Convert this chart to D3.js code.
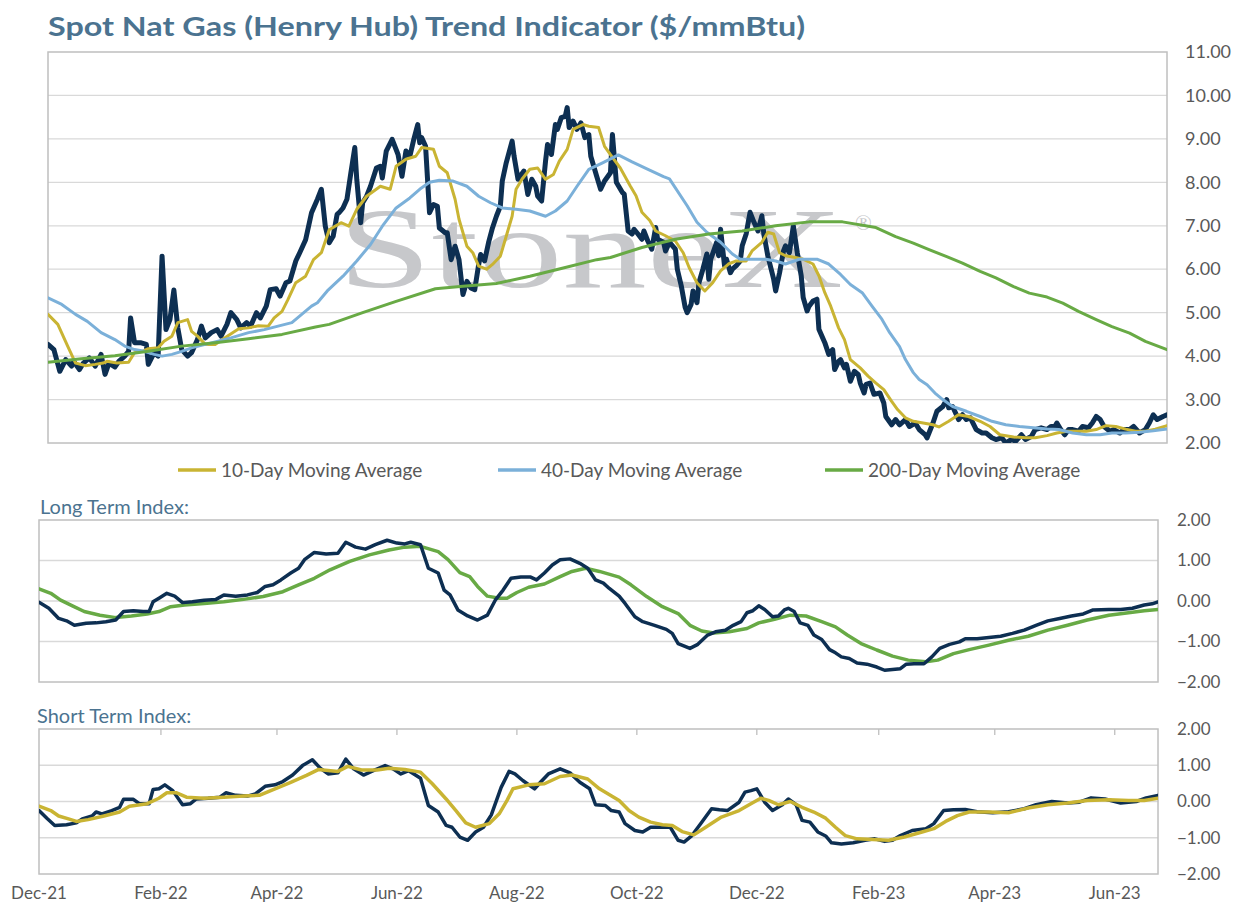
<!DOCTYPE html>
<html>
<head>
<meta charset="utf-8">
<script src="https://cdn.jsdelivr.net/npm/d3@7"></script>
<style>
  html, body { margin: 0; padding: 0; background: #fff; }
  svg { display: block; font-family: Lato, "Noto Sans", sans-serif; }
</style>
</head>
<body>
<svg id="chart" width="1242" height="919"></svg>
<script>
// all series are [days since 1-Dec-2021, value]
const startDate = "2021-12-01";
const endDay = 569;
const monthTicks = ["2021-12-01","2022-02-01","2022-04-01","2022-06-01","2022-08-01","2022-10-01",
  "2022-12-01","2023-02-01","2023-04-01","2023-06-01"];
const priceTicks = [2,3,4,5,6,7,8,9,10,11];
const indexTicks = [-2,-1,0,1,2];
const legendLabels = ["10-Day Moving Average","40-Day Moving Average","200-Day Moving Average"];

const spotPrice = [[0,4.27],[3,4.15],[6,3.65],[9,3.92],[12,3.77],[13,3.88],[16,3.69],[18,3.84],[21,3.96],[24,3.77],
  [27,4.04],[29,3.58],[31,3.84],[34,3.75],[36,3.88],[39,4.0],[41,4.11],[42,4.88],[44,4.31],[47,4.31],[50,4.27],
  [51,3.81],[54,4.08],[56,4.0],[58,6.30],[60,4.61],[62,4.84],[64,5.52],[66,4.65],[68,4.15],[71,4.0],[73,4.08],
  [76,4.38],[78,4.69],[80,4.42],[83,4.54],[86,4.61],[88,4.46],[91,4.73],[93,5.0],[96,4.84],[98,4.65],[101,4.77],
  [103,4.69],[106,5.0],[108,4.88],[111,5.15],[113,5.53],[116,5.55],[118,5.38],[121,5.69],[123,5.73],[126,6.19],
  [128,6.38],[131,6.68],[134,7.30],[137,7.61],[139,7.84],[141,6.99],[143,6.61],[145,6.76],[147,7.26],[148,7.30],
  [150,7.41],[152,7.61],[154,8.22],[156,8.80],[157,8.07],[159,7.07],[160,7.53],[162,7.68],[164,7.91],[167,8.33],
  [169,8.37],[170,8.10],[172,8.72],[175,8.99],[178,8.64],[180,8.14],[182,8.72],[184,8.60],[186,8.99],[188,9.33],
  [189,8.91],[190,9.03],[192,8.83],[194,7.30],[196,7.49],[198,7.45],[199,6.95],[202,6.84],[203,6.84],[205,6.22],
  [207,6.53],[209,6.22],[211,5.42],[213,5.72],[215,5.57],[217,5.53],[219,6.11],[220,6.34],[222,6.19],[224,6.61],
  [226,6.95],[228,7.22],[230,7.45],[231,8.03],[233,8.45],[236,8.95],[237,8.60],[239,8.07],[242,8.26],[244,7.72],
  [246,8.07],[248,7.91],[249,7.68],[251,7.57],[253,8.49],[254,8.87],[256,8.64],[258,9.33],[259,9.22],[261,9.49],
  [263,9.52],[264,9.72],[265,9.26],[267,9.41],[269,9.22],[271,9.37],[273,9.03],[275,9.10],[276,8.60],[279,8.14],
  [281,7.84],[283,8.03],[286,8.22],[287,9.10],[289,8.0],[292,7.77],[293,7.73],[295,6.88],[297,6.81],[298,6.92],
  [300,6.81],[302,6.69],[303,6.88],[305,6.65],[307,6.46],[309,6.96],[310,6.69],[313,6.62],[314,6.42],[316,6.62],
  [319,6.46],[320,6.0],[322,5.62],[324,5.12],[325,5.0],[327,5.19],[328,5.5],[330,5.23],[331,5.69],[333,6.0],
  [335,6.35],[336,5.77],[337,6.23],[340,6.62],[341,6.31],[342,6.92],[344,6.08],[345,6.23],[347,5.92],[348,6.0],
  [350,6.08],[352,6.19],[353,6.54],[355,6.81],[357,7.31],[359,7.08],[361,6.88],[363,7.23],[364,6.81],[366,6.31],
  [369,5.77],[370,5.5],[372,5.92],[374,6.42],[375,6.54],[377,6.38],[379,7.0],[380,6.69],[381,6.38],[383,5.85],
  [384,5.35],[386,5.04],[387,5.15],[389,5.27],[391,5.31],[392,4.62],[395,4.31],[397,4.04],[399,4.15],[400,3.69],
  [402,3.88],[403,3.92],[405,3.73],[406,3.81],[408,3.42],[410,3.65],[412,3.58],[413,3.38],[415,3.15],[416,3.35],
  [418,3.38],[420,3.12],[423,3.15],[425,2.92],[426,2.61],[429,2.42],[431,2.54],[433,2.42],[436,2.54],[438,2.38],
  [441,2.46],[443,2.31],[446,2.19],[447,2.12],[450,2.46],[452,2.73],[455,2.84],[457,3.0],[458,2.81],[460,2.84],
  [463,2.54],[465,2.65],[467,2.54],[469,2.58],[472,2.31],[475,2.23],[477,2.23],[480,2.12],[482,2.08],[485,2.12],
  [487,2.0],[490,2.08],[492,2.04],[495,2.19],[497,2.08],[500,2.15],[502,2.31],[505,2.35],[508,2.31],[510,2.38],
  [512,2.38],[513,2.46],[515,2.31],[517,2.19],[519,2.31],[521,2.31],[524,2.27],[526,2.38],[529,2.35],[531,2.46],
  [533,2.61],[535,2.54],[537,2.38],[540,2.27],[542,2.31],[545,2.23],[547,2.31],[550,2.31],[552,2.38],[555,2.23],
  [558,2.31],[560,2.46],[562,2.65],[564,2.54],[567,2.61],[569,2.65]];

const ma10 = [[0,4.96],[5,4.73],[10,4.23],[14,3.84],[19,3.78],[24,3.81],[28,3.84],[30,3.88],[35,3.84],[41,3.86],
  [44,4.08],[48,4.11],[51,4.17],[56,4.19],[59,4.34],[63,4.46],[66,4.77],[71,4.84],[73,4.57],[76,4.46],[80,4.27],
  [85,4.27],[90,4.42],[97,4.63],[102,4.65],[107,4.70],[112,4.69],[115,4.88],[119,5.03],[122,5.30],[126,5.69],
  [131,5.84],[135,6.22],[139,6.38],[143,6.91],[149,7.07],[153,6.99],[157,7.38],[162,7.68],[169,7.91],[174,7.84],
  [177,8.37],[182,8.53],[187,8.60],[190,8.80],[196,8.76],[199,8.37],[203,8.22],[207,7.61],[209,7.15],[213,6.53],
  [216,6.38],[219,6.07],[223,6.0],[226,6.11],[230,6.30],[233,6.76],[236,7.22],[238,7.84],[241,8.07],[245,8.30],
  [249,8.33],[253,8.07],[257,8.18],[260,8.49],[264,8.76],[267,9.22],[272,9.33],[275,9.29],[280,9.26],[283,8.83],
  [286,8.64],[291,8.33],[296,7.92],[299,7.69],[302,7.31],[306,7.12],[309,6.88],[314,6.77],[319,6.65],[323,6.38],
  [326,6.04],[330,5.69],[334,5.5],[338,5.69],[342,5.96],[346,6.12],[350,6.19],[355,6.19],[358,6.42],[363,6.62],
  [366,6.85],[369,6.81],[372,6.38],[375,6.31],[380,6.27],[384,6.23],[389,6.12],[392,5.85],[395,5.46],[398,5.15],
  [402,4.65],[405,4.38],[408,3.92],[413,3.73],[417,3.54],[421,3.38],[425,3.23],[429,2.96],[432,2.77],[436,2.58],
  [440,2.50],[445,2.46],[450,2.42],[453,2.37],[458,2.50],[463,2.65],[468,2.61],[474,2.50],[479,2.38],[484,2.19],
  [491,2.14],[497,2.12],[502,2.12],[508,2.17],[513,2.23],[518,2.27],[523,2.27],[528,2.27],[533,2.31],[538,2.40],
  [543,2.38],[548,2.32],[553,2.27],[558,2.27],[563,2.32],[569,2.40]];

const ma40 = [[0,5.34],[7,5.19],[14,4.96],[20,4.80],[27,4.54],[34,4.38],[39,4.23],[44,4.15],[49,4.11],[54,4.04],
  [58,4.0],[63,4.04],[68,4.11],[73,4.19],[80,4.27],[86,4.34],[93,4.42],[102,4.54],[110,4.61],[117,4.69],[124,4.77],
  [129,4.96],[134,5.15],[137,5.23],[142,5.50],[150,5.84],[157,6.19],[164,6.57],[170,6.99],[177,7.41],[184,7.64],
  [189,7.84],[194,8.0],[199,8.05],[206,8.03],[213,7.91],[219,7.68],[225,7.53],[231,7.41],[238,7.38],[245,7.34],
  [253,7.22],[258,7.34],[264,7.57],[269,7.91],[275,8.30],[282,8.45],[290,8.63],[297,8.47],[304,8.32],[313,8.13],
  [316,8.08],[325,7.46],[330,7.08],[335,6.85],[342,6.62],[348,6.35],[352,6.23],[358,6.23],[365,6.23],[370,6.19],
  [375,6.12],[382,6.23],[391,6.23],[397,6.12],[403,5.88],[408,5.65],[414,5.46],[419,5.15],[424,4.85],[428,4.54],
  [433,4.22],[436,3.92],[440,3.62],[443,3.46],[447,3.34],[451,3.15],[455,3.0],[460,2.84],[467,2.73],[474,2.61],
  [480,2.50],[487,2.42],[494,2.38],[501,2.35],[508,2.32],[514,2.31],[521,2.23],[528,2.19],[535,2.19],[541,2.23],
  [548,2.23],[555,2.25],[562,2.28],[569,2.32]];

const ma200 = [[0,3.86],[17,3.94],[34,4.01],[51,4.11],[68,4.23],[85,4.31],[102,4.40],[119,4.50],[136,4.67],
  [143,4.73],[160,5.0],[177,5.26],[197,5.55],[211,5.61],[228,5.67],[245,5.84],[262,6.03],[279,6.22],[286,6.27],
  [302,6.50],[319,6.69],[336,6.81],[353,6.88],[370,7.0],[387,7.09],[404,7.09],[421,6.96],[431,6.75],[440,6.60],
  [448,6.45],[457,6.29],[465,6.14],[474,5.95],[482,5.80],[491,5.60],[499,5.45],[508,5.36],[516,5.22],[524,5.03],
  [533,4.84],[541,4.68],[550,4.53],[558,4.34],[569,4.15]];

const longIndex = [[0,-0.03],[5,-0.18],[10,-0.43],[14,-0.49],[18,-0.60],[24,-0.55],[29,-0.54],[34,-0.51],[39,-0.47],
  [43,-0.26],[48,-0.24],[53,-0.26],[56,-0.26],[58,-0.02],[61,0.07],[65,0.19],[69,0.12],[73,-0.04],[78,-0.02],
  [84,0.02],[90,0.04],[94,0.15],[100,0.12],[106,0.15],[111,0.21],[115,0.36],[119,0.40],[123,0.52],[128,0.69],
  [132,0.81],[135,1.02],[140,1.20],[146,1.16],[152,1.18],[156,1.45],[161,1.33],[166,1.28],[171,1.39],[177,1.50],
  [182,1.43],[186,1.41],[189,1.45],[194,1.39],[198,0.81],[203,0.69],[206,0.27],[209,0.15],[213,-0.22],[218,-0.37],
  [223,-0.47],[228,-0.35],[232,0.02],[236,0.27],[240,0.56],[245,0.59],[250,0.59],[253,0.52],[257,0.69],[261,0.89],
  [265,1.02],[270,1.04],[275,0.93],[279,0.81],[283,0.52],[287,0.44],[290,0.31],[295,0.12],[298,-0.06],[303,-0.39],
  [307,-0.51],[313,-0.60],[319,-0.70],[322,-0.80],[325,-1.05],[331,-1.17],[335,-1.07],[340,-0.84],[344,-0.76],
  [349,-0.72],[353,-0.60],[357,-0.51],[360,-0.29],[363,-0.24],[366,-0.12],[369,-0.21],[373,-0.39],[376,-0.37],
  [379,-0.22],[381,-0.18],[384,-0.26],[387,-0.54],[391,-0.60],[394,-0.84],[398,-0.95],[402,-1.20],[405,-1.28],
  [408,-1.38],[412,-1.42],[416,-1.53],[421,-1.56],[426,-1.63],[430,-1.71],[434,-1.69],[438,-1.67],[441,-1.56],
  [445,-1.55],[450,-1.55],[454,-1.38],[458,-1.17],[463,-1.07],[468,-1.01],[471,-0.93],[477,-0.93],[483,-0.90],
  [489,-0.87],[495,-0.80],[501,-0.72],[507,-0.60],[513,-0.49],[519,-0.43],[525,-0.37],[531,-0.32],[536,-0.22],
  [544,-0.21],[550,-0.21],[556,-0.18],[562,-0.10],[566,-0.07],[569,-0.02]];

const longSignal = [[0,0.30],[6,0.19],[11,0.02],[17,-0.12],[23,-0.26],[31,-0.35],[39,-0.41],[47,-0.37],[55,-0.32],
  [61,-0.26],[67,-0.14],[74,-0.10],[84,-0.06],[94,-0.02],[104,0.04],[114,0.11],[124,0.23],[132,0.40],[140,0.56],
  [148,0.77],[158,0.98],[168,1.14],[178,1.26],[186,1.33],[194,1.35],[203,1.22],[208,1.02],[214,0.70],[219,0.60],
  [223,0.36],[228,0.12],[234,0.07],[238,0.07],[243,0.21],[249,0.34],[257,0.42],[265,0.60],[271,0.73],[278,0.81],
  [285,0.73],[295,0.59],[301,0.40],[309,0.11],[317,-0.14],[325,-0.31],[331,-0.60],[337,-0.74],[343,-0.79],
  [351,-0.76],[360,-0.68],[366,-0.54],[374,-0.45],[382,-0.35],[390,-0.37],[398,-0.51],[405,-0.64],[411,-0.84],
  [418,-1.05],[426,-1.21],[434,-1.36],[442,-1.46],[451,-1.50],[457,-1.46],[465,-1.30],[473,-1.20],[483,-1.09],
  [493,-0.97],[503,-0.87],[513,-0.72],[523,-0.60],[533,-0.47],[544,-0.35],[554,-0.29],[562,-0.24],[569,-0.21]];

const shortIndex = [[0,-0.25],[4,-0.46],[8,-0.66],[14,-0.64],[19,-0.59],[22,-0.48],[27,-0.40],[29,-0.29],[32,-0.34],
  [37,-0.25],[41,-0.16],[43,0.06],[48,0.06],[51,-0.06],[56,-0.06],[58,0.33],[61,0.35],[64,0.46],[68,0.30],[73,-0.09],
  [77,-0.06],[80,0.07],[86,0.09],[92,0.12],[95,0.24],[100,0.17],[106,0.15],[110,0.21],[115,0.42],[120,0.46],
  [124,0.55],[129,0.73],[134,0.99],[139,1.15],[143,0.92],[147,0.76],[152,0.79],[156,1.17],[160,0.90],[165,0.73],
  [170,0.85],[176,0.99],[180,0.90],[184,0.76],[188,0.85],[194,0.64],[198,-0.11],[203,-0.29],[207,-0.66],[210,-0.71],
  [214,-0.98],[218,-1.07],[222,-0.84],[226,-0.71],[230,-0.37],[235,0.39],[239,0.83],[242,0.76],[246,0.58],[252,0.35],
  [255,0.53],[259,0.76],[265,0.90],[270,0.79],[275,0.53],[280,0.35],[283,-0.09],[288,-0.11],[291,-0.25],[295,-0.29],
  [298,-0.61],[303,-0.80],[307,-0.84],[311,-0.71],[315,-0.71],[321,-0.71],[325,-1.07],[328,-1.12],[332,-0.94],
  [337,-0.57],[342,-0.20],[346,-0.23],[350,-0.25],[356,-0.02],[359,0.26],[362,0.30],[365,0.35],[369,-0.02],
  [373,-0.25],[378,-0.09],[381,0.07],[385,-0.09],[388,-0.52],[392,-0.57],[396,-0.84],[400,-0.95],[403,-1.14],
  [408,-1.17],[414,-1.14],[420,-1.07],[425,-1.03],[430,-1.10],[434,-1.07],[438,-0.94],[444,-0.80],[451,-0.75],
  [455,-0.61],[460,-0.25],[465,-0.23],[471,-0.22],[477,-0.28],[485,-0.31],[493,-0.28],[501,-0.20],[507,-0.09],
  [515,0.0],[523,-0.04],[529,-0.02],[535,0.10],[542,0.07],[550,-0.04],[558,0.0],[563,0.10],[569,0.17]];

const shortSignal = [[0,-0.13],[6,-0.25],[10,-0.40],[15,-0.48],[19,-0.55],[25,-0.50],[33,-0.40],[41,-0.29],[46,-0.13],
  [55,-0.06],[61,0.09],[65,0.24],[70,0.24],[75,0.12],[84,0.09],[94,0.12],[104,0.15],[112,0.17],[120,0.35],[128,0.53],
  [136,0.72],[142,0.88],[152,0.83],[157,0.97],[164,0.87],[172,0.87],[178,0.92],[186,0.88],[194,0.81],[200,0.49],
  [207,0.07],[212,-0.25],[217,-0.59],[222,-0.71],[229,-0.61],[234,-0.34],[238,0.03],[241,0.35],[249,0.46],[257,0.49],
  [265,0.69],[271,0.73],[279,0.62],[285,0.35],[295,0.03],[300,-0.25],[305,-0.43],[311,-0.57],[317,-0.64],[322,-0.66],
  [327,-0.83],[333,-0.92],[339,-0.71],[347,-0.43],[356,-0.25],[362,-0.06],[367,0.09],[371,0.03],[376,-0.09],[382,0.0],
  [388,-0.16],[394,-0.29],[400,-0.46],[405,-0.71],[410,-0.94],[416,-1.03],[424,-1.05],[432,-1.07],[440,-0.98],
  [449,-0.84],[455,-0.75],[461,-0.55],[467,-0.39],[473,-0.29],[483,-0.29],[493,-0.31],[503,-0.18],[513,-0.09],
  [523,-0.04],[533,0.03],[544,0.05],[554,0.03],[562,0.03],[569,0.09]];

const navy = "#0d2f52", gold = "#c9b433", blue = "#7bb0d9", green = "#68aa45";
const gridColor = "#d9d9d9", borderColor = "#bfbfbf", labelColor = "#595959", titleColor = "#4b7390";

const day0 = d3.timeParse("%Y-%m-%d")(startDate);
const toDate = d => d3.timeDay.offset(day0, d);
const fmt = d3.format(".2f");

const svg = d3.select("#chart");
svg.append("rect").attr("width", 1242).attr("height", 919).attr("fill", "#fff");

svg.append("text")
  .attr("x", 48).attr("y", 36)
  .attr("font-size", 27).attr("font-weight", 700)
  .attr("fill", titleColor)
  .attr("textLength", 757).attr("lengthAdjust", "spacingAndGlyphs")
  .text("Spot Nat Gas (Henry Hub) Trend Indicator ($/mmBtu)");

// draws frame, gridlines and right-hand labels of one panel
function makePanel(id, box, yDomain, ticks, labelPad, labelSize) {
  const x = d3.scaleTime().domain([day0, toDate(endDay)]).range([box.left, box.right]);
  const y = d3.scaleLinear().domain(yDomain).range([box.bottom, box.top]);
  const g = svg.append("g");

  g.append("clipPath").attr("id", id)
    .append("rect")
      .attr("x", box.left).attr("y", box.top)
      .attr("width", box.right - box.left).attr("height", box.bottom - box.top);

  g.selectAll("line.grid")
    .data(ticks.slice(1, -1))
    .join("line")
      .attr("x1", box.left).attr("x2", box.right)
      .attr("y1", d => y(d)).attr("y2", d => y(d))
      .attr("stroke", gridColor).attr("stroke-width", 1.3);

  g.append("rect")
    .attr("x", box.left).attr("y", box.top)
    .attr("width", box.right - box.left).attr("height", box.bottom - box.top)
    .attr("fill", "none").attr("stroke", borderColor).attr("stroke-width", 1.5);

  const axis = d3.axisRight(y).tickValues(ticks).tickFormat(fmt).tickSize(0).tickPadding(labelPad);
  const ax = svg.append("g").attr("transform", `translate(${box.right},0)`).call(axis);
  ax.select(".domain").remove();
  ax.selectAll("text")
    .attr("font-family", 'Lato, "Noto Sans", sans-serif')
    .attr("font-size", labelSize).attr("fill", labelColor);

  const layer = svg.append("g").attr("clip-path", `url(#${id})`);
  return { x, y, layer };
}

function drawLine(p, data, color, width) {
  const line = d3.line()
    .x(d => p.x(toDate(d[0])))
    .y(d => p.y(d[1]));
  p.layer.append("path")
    .datum(data)
    .attr("d", line)
    .attr("fill", "none")
    .attr("stroke", color)
    .attr("stroke-width", width)
    .attr("stroke-linejoin", "round")
    .attr("stroke-linecap", "round");
}

// ---- price panel
const priceP = makePanel("clipTop", { left: 48, right: 1167, top: 52, bottom: 443 }, [2, 11], priceTicks, 18, 18);

// watermark
priceP.layer.append("text")
  .attr("x", 338).attr("y", 287)
  .attr("font-family", '"Liberation Serif", "DejaVu Serif", serif')
  .attr("font-size", 114)
  .attr("fill", "#c7c8cb")
  .attr("textLength", 505).attr("lengthAdjust", "spacingAndGlyphs")
  .text("StoneX");
priceP.layer.append("text")
  .attr("x", 855).attr("y", 230)
  .attr("font-family", '"Liberation Serif", "DejaVu Serif", serif')
  .attr("font-size", 22).attr("fill", "#c7c8cb")
  .text("®");

drawLine(priceP, spotPrice, navy, 5);
drawLine(priceP, ma10, gold, 3);
drawLine(priceP, ma40, blue, 3);
drawLine(priceP, ma200, green, 3);

// legend
const legendX = [178, 498, 825];
const legendColors = [gold, blue, green];
const leg = svg.append("g").selectAll("g")
  .data(legendLabels)
  .join("g")
    .attr("transform", (d, i) => `translate(${legendX[i]},470)`);
leg.append("line")
  .attr("x1", 0).attr("x2", 38)
  .attr("stroke", (d, i) => legendColors[i]).attr("stroke-width", 3.5);
leg.append("text")
  .attr("x", 43).attr("y", 6.5)
  .attr("font-size", 19).attr("fill", labelColor)
  .text(d => d);

// ---- long term index
svg.append("text")
  .attr("x", 40).attr("y", 514)
  .attr("font-size", 20).attr("fill", titleColor)
  .text("Long Term Index:");
const longP = makePanel("clipLong", { left: 39, right: 1158, top: 520, bottom: 682 }, [-2, 2], indexTicks, 19, 17);
drawLine(longP, longSignal, green, 3.5);
drawLine(longP, longIndex, navy, 3.5);

// ---- short term index
svg.append("text")
  .attr("x", 37).attr("y", 723)
  .attr("font-size", 20).attr("fill", titleColor)
  .text("Short Term Index:");
const shortP = makePanel("clipShort", { left: 39, right: 1158, top: 729, bottom: 874 }, [-2, 2], indexTicks, 19, 17);
drawLine(shortP, shortIndex, navy, 3.5);
drawLine(shortP, shortSignal, gold, 3.5);

const months = monthTicks.map(d3.timeParse("%Y-%m-%d"));
svg.append("g").selectAll("line")
  .data(months.slice(1))
  .join("line")
    .attr("x1", d => shortP.x(d)).attr("x2", d => shortP.x(d))
    .attr("y1", 729).attr("y2", 735)
    .attr("stroke", borderColor).attr("stroke-width", 1.3);
svg.append("g").selectAll("text")
  .data(months)
  .join("text")
    .attr("x", d => shortP.x(d)).attr("y", 899)
    .attr("text-anchor", "middle")
    .attr("font-size", 17).attr("fill", labelColor)
    .text(d3.timeFormat("%b-%y"));
</script>
</body>
</html>
